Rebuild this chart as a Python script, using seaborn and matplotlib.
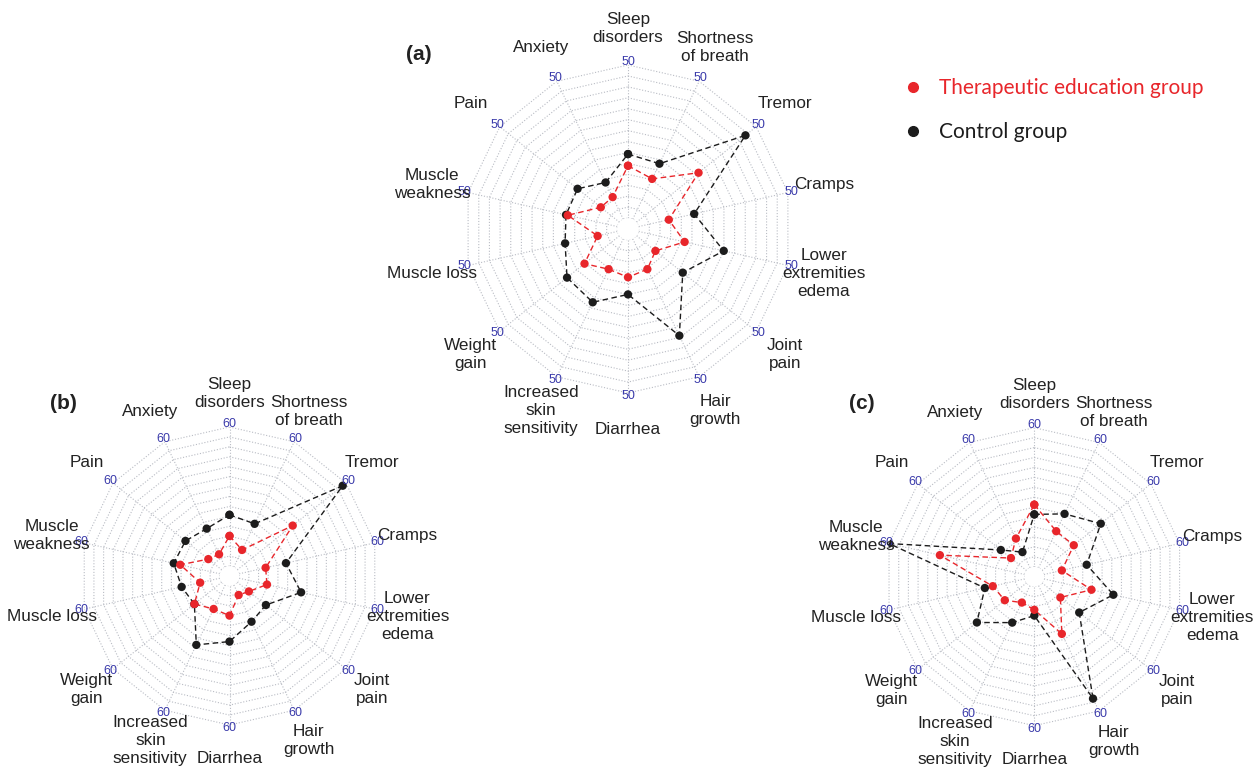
import numpy as np
import pandas as pd
import seaborn as sns
import matplotlib.pyplot as plt
from matplotlib.lines import Line2D

# symptom axes, clockwise from the top
symptoms = ["Sleep\ndisorders", "Shortness\nof breath", "Tremor", "Cramps",
            "Lower\nextremities\nedema", "Joint\npain", "Hair\ngrowth", "Diarrhea",
            "Increased\nskin\nsensitivity", "Weight\ngain", "Muscle loss",
            "Muscle\nweakness", "Pain", "Anxiety"]

# (a)
treat_a = [17.1, 14.6, 25.9, 10.1, 15.4, 7.9, 11.0, 12.2, 11.0, 14.6, 6.6, 16.6, 7.8, 8.0]
ctrl_a = [20.9, 20.1, 45.5, 18.6, 28.5, 19.3, 35.1, 17.8, 23.0, 21.9, 17.5, 17.2, 17.5, 13.3]
# (b)
treat_b = [13.0, 8.2, 30.6, 11.7, 12.3, 6.4, 4.8, 12.8, 11.5, 15.1, 8.7, 17.5, 7.4, 6.1]
ctrl_b = [22.1, 20.7, 58.2, 20.7, 27.4, 15.8, 17.6, 24.0, 28.7, 15.1, 16.9, 20.4, 20.0, 18.4]
# (c)
treat_c = [26.8, 17.5, 17.5, 7.9, 21.0, 10.1, 23.1, 10.0, 8.1, 12.0, 14.1, 37.5, 8.6, 14.0]
ctrl_c = [22.6, 25.8, 32.4, 18.9, 30.7, 20.5, 54.1, 12.5, 17.7, 27.4, 17.6, 60.0, 14.2, 7.5]

groups = ["Therapeutic education group", "Control group"]

RED = "#e8262b"
BLACK = "#1c1c1c"
GRID = "#b9bcc4"
BLUE = "#3a3aaa"

sns.set_theme(style="white")
plt.rcParams['font.family'] = ['Liberation Sans', 'DejaVu Sans']

W, H = 1257, 769
fig = plt.figure(figsize=(W / 100, H / 100), dpi=100)
fig.patch.set_facecolor("white")

angles = np.linspace(0, 2 * np.pi, len(symptoms), endpoint=False)
seg = 14


def radar(cx, cy, R, vmax, treat, ctrl, tag, tag_xy):
    ax = fig.add_axes([(cx - R) / W, (H - cy - R) / H, 2 * R / W, 2 * R / H],
                      projection='polar')
    ax.set_theta_zero_location('N')
    ax.set_theta_direction(-1)
    off = vmax / seg
    ang_c = np.append(angles, angles[0])

    # polygon grid + spokes
    for i in range(seg + 1):
        r = i * vmax / seg
        ax.plot(ang_c, [r] * len(ang_c), ls=(0, (1, 1.6)), color=GRID, lw=0.8, zorder=1)
    for a in angles:
        ax.plot([a, a], [0, vmax], ls=(0, (1, 1.6)), color=GRID, lw=0.8, zorder=1)

    rows = []
    for g, vals in [(groups[1], ctrl), (groups[0], treat)]:
        v = list(vals) + [vals[0]]
        for a, val in zip(ang_c, v):
            rows.append((g, a, val))
    df = pd.DataFrame(rows, columns=["group", "angle", "value"])
    pal = {groups[0]: RED, groups[1]: BLACK}

    sns.lineplot(data=df, x="angle", y="value", hue="group", palette=pal,
                 sort=False, estimator=None, ax=ax, legend=False,
                 linestyle=(0, (4, 2.5)), lw=1.0, zorder=2)
    sns.scatterplot(data=df, x="angle", y="value", hue="group", palette=pal,
                    s=36, edgecolor="none", ax=ax, legend=False, zorder=3)

    ax.set_ylim(0, vmax)
    ax.set_rorigin(-off)
    ax.grid(False)
    # polar axes re-enable the inner spine at draw time, so blank it instead
    for sp in ax.spines.values():
        sp.set_color("none")
        sp.set_linewidth(0)
    ax.set_xticks([])
    ax.set_yticks([])
    ax.set_xlabel("")
    ax.set_ylabel("")
    ax.set_facecolor("none")

    r_num = vmax + 0.02 * (vmax + off)
    r_lab = 1.225 * (vmax + off) - off
    for a, lab in zip(angles, symptoms):
        ax.text(a, r_num, str(vmax), color=BLUE, fontsize=9, ha='center', va='center')
        ax.text(a, r_lab, lab, color="#222222", fontsize=12.3, ha='center',
                va='center', linespacing=1.25, multialignment='center')

    fig.text(tag_xy[0] / W, 1 - tag_xy[1] / H, tag, fontsize=15, fontweight='bold',
             ha='center', va='center', color="#222222")


radar(628, 229, 164, 50, treat_a, ctrl_a, "(a)", (419, 54))
radar(229.5, 576, 149, 60, treat_b, ctrl_b, "(b)", (63, 404))
radar(1034.3, 576.7, 149, 60, treat_c, ctrl_c, "(c)", (862, 404))

handles = [Line2D([], [], marker='o', ls='none', color=RED, markersize=7),
           Line2D([], [], marker='o', ls='none', color=BLACK, markersize=7)]
fig.legend(handles, groups, loc='center left', bbox_to_anchor=(884 / W, 1 - 110 / H),
           frameon=False, prop={'family': 'Lato', 'size': 15}, labelcolor=[RED, BLACK],
           handlelength=1.0, handletextpad=0.75, labelspacing=1.15)

fig.savefig("out.png", dpi=100)
